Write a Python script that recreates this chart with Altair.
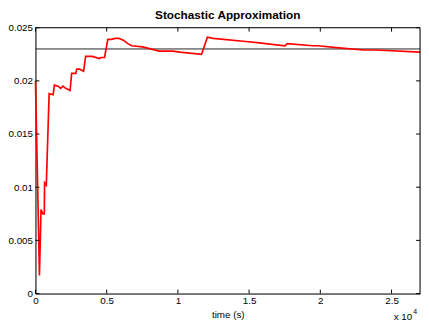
import altair as alt
import pandas as pd

# data
time_s = [0, 280, 390, 520, 620, 640, 760, 960, 1240, 1330,
          1590, 1770, 1930, 2120, 2430, 2540, 2830, 2900, 3100, 3380,
          3520, 4000, 4480, 4600, 4850, 5080, 5330, 5590, 5860, 6200,
          6480, 6760, 7520, 8690, 9650, 10140, 11660, 12070, 12480, 14760,
          15560, 17520, 17680, 19470, 19820, 21310, 23030, 23930, 27000]
estimate = [0.0200, 0.0017, 0.0079, 0.0075, 0.0075, 0.0104, 0.0102, 0.0188, 0.0187, 0.0196,
            0.0195, 0.0193, 0.0195, 0.0193, 0.0191, 0.0207, 0.0207, 0.0211, 0.0211, 0.0209,
            0.0223, 0.0223, 0.0221, 0.0222, 0.0222, 0.0239, 0.0239, 0.0240, 0.0240, 0.0238,
            0.0235, 0.0233, 0.0232, 0.0228, 0.0228, 0.0227, 0.0225, 0.0241, 0.0240, 0.0237,
            0.0236, 0.0233, 0.0235, 0.0233, 0.0233, 0.0231, 0.0229, 0.0229, 0.0227]
reference_value = [0.023]
x_ticks = [0, 5000, 10000, 15000, 20000, 25000]
y_ticks = [0, 0.005, 0.01, 0.015, 0.02, 0.025]
x_domain = [0, 27000]
y_domain = [0, 0.025]

W, H = 392, 271
FONT = "Liberation Sans"
TICK = 4

df = pd.DataFrame({"t": time_s, "v": estimate})
ref = pd.DataFrame({"v": reference_value})
xt = pd.DataFrame({"t": x_ticks})
yt = pd.DataFrame({"v": y_ticks})

xs = alt.Scale(domain=x_domain, nice=False, zero=False)
ys = alt.Scale(domain=y_domain, nice=False, zero=False)

x_axis = alt.Axis(values=x_ticks, labelExpr="datum.value / 10000", tickSize=0,
                  grid=False, labelPadding=2, title="time (s)", titlePadding=4,
                  labelFont=FONT, titleFont=FONT, labelFontSize=10, titleFontSize=10,
                  titleFontWeight="normal", labelColor="black", titleColor="black",
                  domainColor="black", labelFlush=False)
y_axis = alt.Axis(values=y_ticks, labelExpr="datum.value + ''", tickSize=0,
                  grid=False, labelPadding=3, title=None,
                  labelFont=FONT, labelFontSize=10, labelColor="black",
                  domainColor="black", labelFlush=False)

line = alt.Chart(df).mark_line(color="#ff0000", strokeWidth=1.7).encode(
    x=alt.X("t:Q", scale=xs, axis=x_axis),
    y=alt.Y("v:Q", scale=ys, axis=y_axis),
)

refline = alt.Chart(ref).mark_rule(color="#222222", strokeWidth=1).encode(
    y=alt.Y("v:Q", scale=ys),
)

bottom_ticks = alt.Chart(xt).mark_rule(color="black", strokeWidth=1).encode(
    x=alt.X("t:Q", scale=xs), y=alt.value(H), y2=alt.value(H - TICK))
top_ticks = alt.Chart(xt).mark_rule(color="black", strokeWidth=1).encode(
    x=alt.X("t:Q", scale=xs), y=alt.value(0), y2=alt.value(TICK))
left_ticks = alt.Chart(yt).mark_rule(color="black", strokeWidth=1).encode(
    y=alt.Y("v:Q", scale=ys), x=alt.value(0), x2=alt.value(TICK))
right_ticks = alt.Chart(yt).mark_rule(color="black", strokeWidth=1).encode(
    y=alt.Y("v:Q", scale=ys), x=alt.value(W), x2=alt.value(W - TICK))

top_frame = alt.Chart(ref).mark_rule(color="black", strokeWidth=1).encode(
    x=alt.value(0), x2=alt.value(W), y=alt.value(0))
right_frame = alt.Chart(ref).mark_rule(color="black", strokeWidth=1).encode(
    x=alt.value(W), y=alt.value(0), y2=alt.value(H))

exp_base = alt.Chart(pd.DataFrame({"s": ["x 10"]})).mark_text(
    font=FONT, fontSize=10, color="black", align="right", baseline="alphabetic"
).encode(x=alt.value(W - 8), y=alt.value(H + 27), text="s:N")
exp_sup = alt.Chart(pd.DataFrame({"s": ["4"]})).mark_text(
    font=FONT, fontSize=7, color="black", align="left", baseline="alphabetic"
).encode(x=alt.value(W - 7), y=alt.value(H + 21), text="s:N")

chart = alt.layer(
    refline, line, bottom_ticks, top_ticks, left_ticks, right_ticks,
    top_frame, right_frame, exp_base, exp_sup
).properties(
    width=W, height=H,
    title=alt.TitleParams("Stochastic Approximation", font=FONT, fontSize=12,
                          fontWeight="bold", color="black", anchor="middle", offset=1),
    autosize=alt.AutoSizeParams(type="none"),
    padding={"left": 28, "top": 17, "right": 1, "bottom": 30},
).configure_view(stroke="black", strokeWidth=1).configure(background="white")

chart.save("out.html", embed_options={"renderer": "svg", "actions": False})
